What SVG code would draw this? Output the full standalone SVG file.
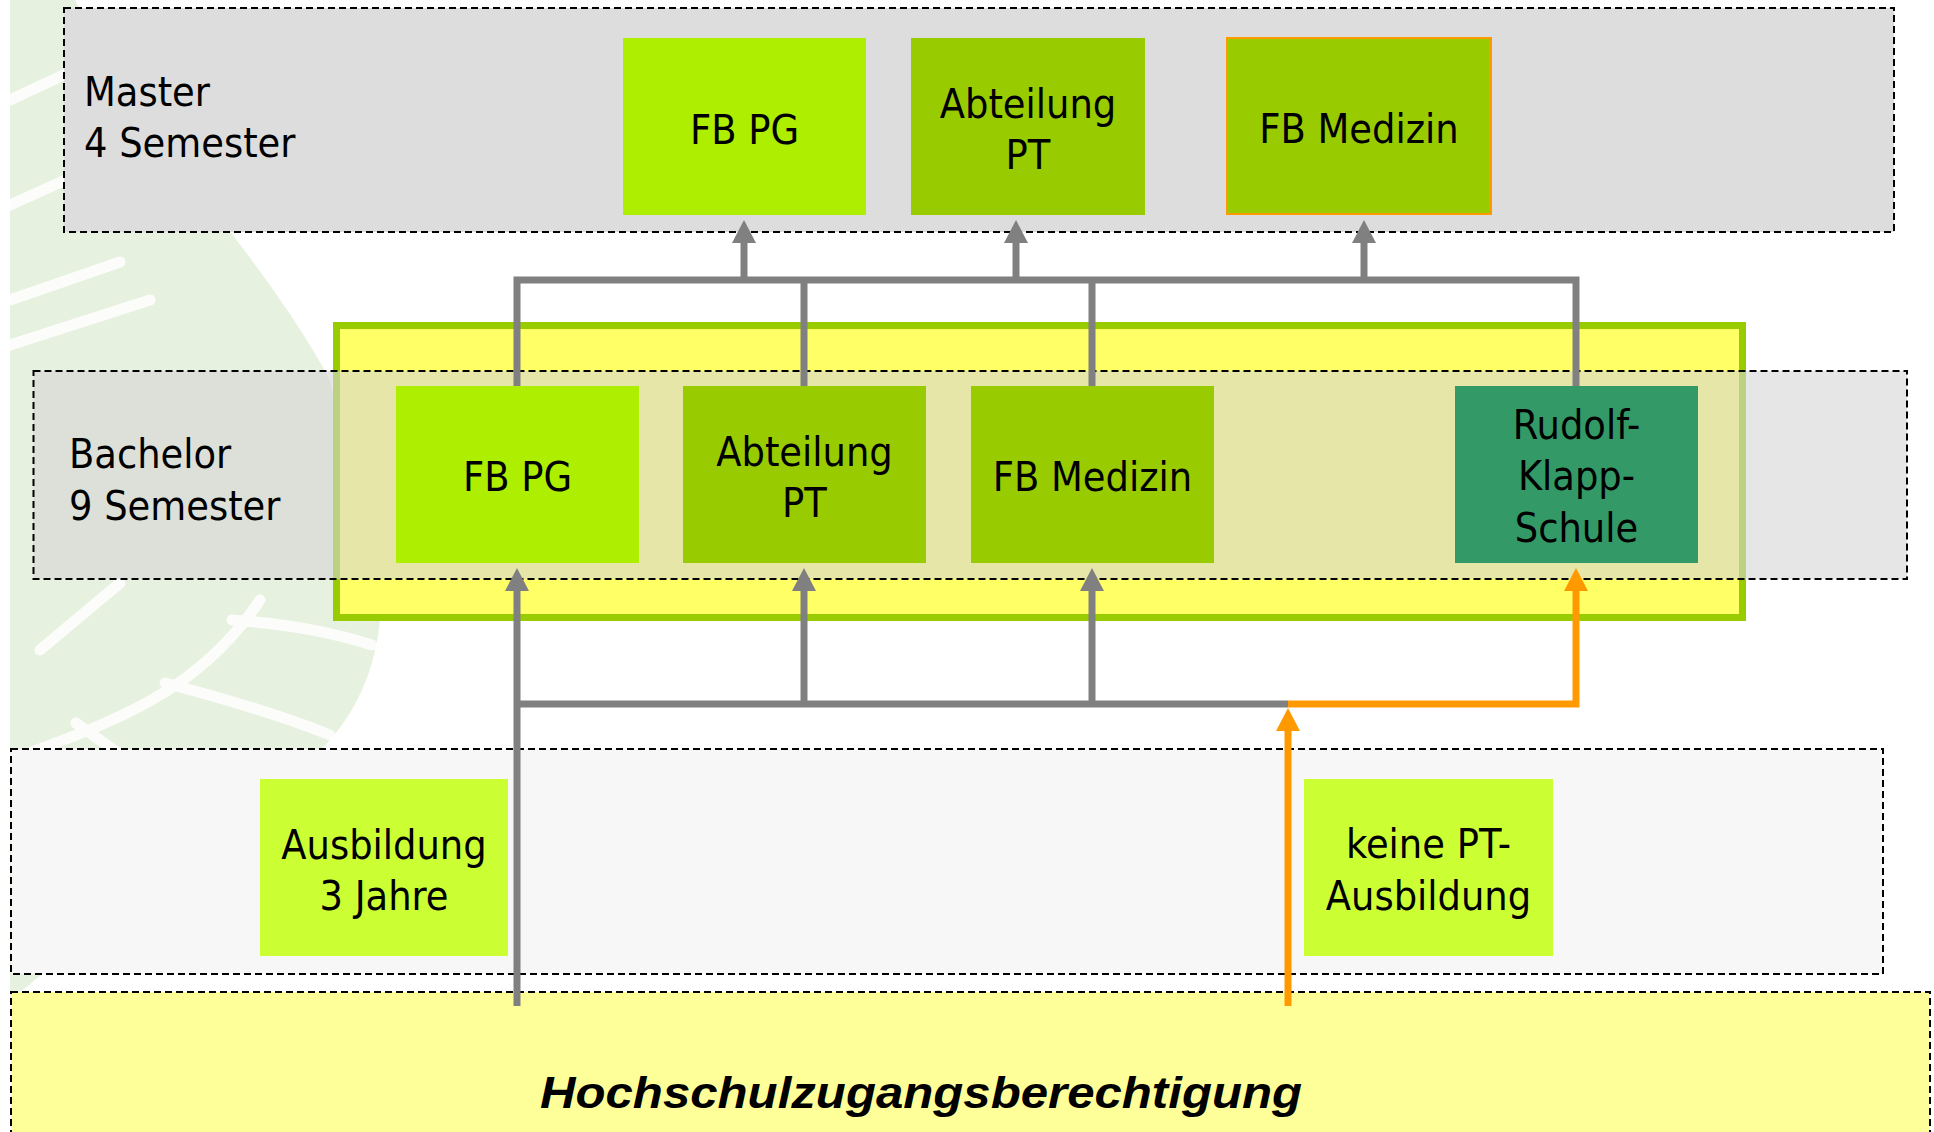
<svg xmlns="http://www.w3.org/2000/svg" width="1934" height="1132" viewBox="0 0 1934 1132">
<defs>
<style>
.lane{stroke:#000;stroke-width:2;stroke-dasharray:7 4}
.t{font-family:"DejaVu Sans Condensed","DejaVu Sans",sans-serif;font-stretch:condensed;font-size:41px;fill:#000}
.c{text-anchor:middle}
.pg{fill:#AEEE00}
.pt{fill:#99CC00}
.aus{fill:#CCFF33}
.g{fill:none;stroke:#808080;stroke-width:7}
.o{fill:none;stroke:#FF9900;stroke-width:7}
.vein{fill:none;stroke:#fff;stroke-width:11;stroke-linecap:round;stroke-opacity:0.85}
</style>
<marker id="ag" markerUnits="userSpaceOnUse" markerWidth="23" markerHeight="24" refX="0" refY="12" orient="auto"><path d="M0,0 L23,12 L0,24 Z" fill="#808080"/></marker>
<marker id="ao" markerUnits="userSpaceOnUse" markerWidth="23" markerHeight="24" refX="0" refY="12" orient="auto"><path d="M0,0 L23,12 L0,24 Z" fill="#FF9900"/></marker>
</defs>
<rect width="1934" height="1132" fill="#fff"/>
<g id="background-leaf">
<path d="M10,0 L75,0 C150,150 260,250 330,380 L380,620 C372,700 330,760 250,800 C180,850 100,930 10,1000 Z" fill="#E7F1DF"/>
<path class="vein" d="M10,100 L70,72 M10,205 L70,178 M10,300 L120,262 M10,345 L150,300 M232,620 C300,625 340,635 372,645 M165,683 C230,700 280,715 330,735 M40,650 L120,583 M76,723 L156,780 M10,760 C120,720 200,690 260,600"/>
</g>
<g id="master-lane">
<rect class="lane" x="64" y="8" width="1830" height="224" fill="#DDDDDD"/>
<text class="t" x="84" y="106">Master</text>
<text class="t" x="84" y="157">4 Semester</text>
</g>
<g id="master-fbpg"><rect class="pg" x="623" y="38" width="243" height="177"/><text class="t c" x="744.5" y="144">FB PG</text></g>
<g id="master-abtpt"><rect class="pt" x="911" y="38" width="234" height="177"/><text class="t c" x="1028" y="118">Abteilung</text><text class="t c" x="1028" y="169">PT</text></g>
<g id="master-fbmed"><rect class="pt" x="1227" y="38" width="264" height="176" stroke="#FF9900" stroke-width="2"/><text class="t c" x="1359" y="143">FB Medizin</text></g>
<g id="bachelor-frame"><rect x="336.5" y="325.5" width="1406" height="292" fill="#FFFF66" stroke="#99CC00" stroke-width="7"/></g>
<g id="bachelor-lane">
<rect class="lane" x="33.5" y="371" width="1873.5" height="208" fill="#D6D6D6" fill-opacity="0.6"/>
<text class="t" x="69" y="468">Bachelor</text>
<text class="t" x="69" y="520">9 Semester</text>
</g>
<g id="bachelor-fbpg"><rect class="pg" x="396" y="386" width="243" height="177"/><text class="t c" x="517.5" y="491">FB PG</text></g>
<g id="bachelor-abtpt"><rect class="pt" x="683" y="386" width="243" height="177"/><text class="t c" x="804.5" y="466">Abteilung</text><text class="t c" x="804.5" y="517">PT</text></g>
<g id="bachelor-fbmed"><rect class="pt" x="971" y="386" width="243" height="177"/><text class="t c" x="1092.5" y="491">FB Medizin</text></g>
<g id="bachelor-rks"><rect x="1455" y="386" width="243" height="177" fill="#339966"/><text class="t c" x="1576.5" y="439">Rudolf-</text><text class="t c" x="1576.5" y="490">Klapp-</text><text class="t c" x="1576.5" y="542">Schule</text></g>
<g id="ausbildung-lane"><rect class="lane" x="11" y="749" width="1872" height="225" fill="#F7F7F7"/></g>
<g id="ausbildung-3j"><rect class="aus" x="260" y="779" width="248" height="177"/><text class="t c" x="384" y="859">Ausbildung</text><text class="t c" x="384" y="910">3 Jahre</text></g>
<g id="keine-pt"><rect class="aus" x="1304" y="779" width="249" height="177"/><text class="t c" x="1428.5" y="858">keine PT-</text><text class="t c" x="1428.5" y="910">Ausbildung</text></g>
<g id="hzb"><rect class="lane" x="11" y="992" width="1919" height="150" fill="#FFFF99"/>
<text x="540" y="1108" font-family="'Liberation Sans',Arial,sans-serif" font-weight="bold" font-style="italic" font-size="44" textLength="762" lengthAdjust="spacingAndGlyphs">Hochschulzugangsberechtigung</text></g>
<g id="connectors">
<path class="g" d="M517,386 V280 H1576 V386"/>
<path class="g" d="M804,386 V280 M1092,386 V280"/>
<path class="g" d="M744,280 V243" marker-end="url(#ag)"/>
<path class="g" d="M1016,280 V243" marker-end="url(#ag)"/>
<path class="g" d="M1364,280 V243" marker-end="url(#ag)"/>
<path class="g" d="M517,1006 V591" marker-end="url(#ag)"/>
<path class="g" d="M517,704 H1288"/>
<path class="g" d="M804,704 V591" marker-end="url(#ag)"/>
<path class="g" d="M1092,704 V591" marker-end="url(#ag)"/>
<path class="o" d="M1288,704 H1576 V591" marker-end="url(#ao)"/>
<path class="o" d="M1288,1006 V731" marker-end="url(#ao)"/>
</g>
</svg>
